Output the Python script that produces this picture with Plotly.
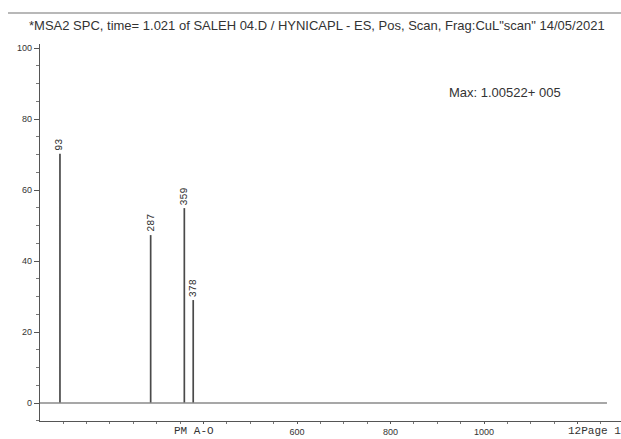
import plotly.graph_objects as go

# ---- data ----
peak_mz = [93, 287, 359, 378]
peak_abund = [70.2, 47.3, 54.9, 29.0]
peak_labels = ["93", "287", "359", "378"]
y_ticks = [0, 20, 40, 60, 80, 100]
x_ticks = [400, 600, 800, 1000, 1200]
x_ticktext = ["", "600", "800", "1000", ""]
title_text = '*MSA2 SPC, time= 1.021 of SALEH 04.D / HYNICAPL - ES, Pos, Scan, Frag:CuL"scan" 14/05/2021'
max_text = "Max: 1.00522+ 005"

W, H = 621, 439
L, R, T, B = 40, 0, 44, 18
x_range = [50.3, 1293.0]
y_range = [-5.07, 101.13]
baseline_end = 1263

xs, ys = [], []
for m, a in zip(peak_mz, peak_abund):
    xs += [m, m, None]
    ys += [0, a, None]

fig = go.Figure()
fig.add_trace(go.Scatter(x=xs, y=ys, mode="lines",
                         line=dict(color="#4a4a4a", width=1.7),
                         hoverinfo="skip", showlegend=False))

# baseline at zero abundance
fig.add_shape(type="line", xref="x", yref="y", x0=x_range[0], x1=baseline_end,
              y0=0, y1=0, line=dict(color="#8a8a8a", width=1.6))

# peak labels
for m, a, lab in zip(peak_mz, peak_abund, peak_labels):
    fig.add_annotation(x=m, y=a, text=lab, textangle=-90, showarrow=False,
                       xanchor="center", yanchor="bottom", yshift=1,
                       font=dict(family="Liberation Mono", size=10, color="#333"))

pw = W - L - R
ph = H - T - B
def px(xp):
    return (xp - L) / pw
def py(yp):
    return (H - B - yp) / ph

fig.add_annotation(xref="paper", yref="paper", x=px(27), y=py(25), text=title_text,
                   showarrow=False, xanchor="left", yanchor="middle",
                   font=dict(family="Liberation Sans", size=13, color="#333"))
fig.add_annotation(xref="paper", yref="paper", x=px(447), y=py(92), text=max_text,
                   showarrow=False, xanchor="left", yanchor="middle",
                   font=dict(family="Liberation Sans", size=13, color="#333"))
fig.add_annotation(xref="paper", yref="paper", x=px(172), y=py(431), text="PM A-O",
                   showarrow=False, xanchor="left", yanchor="middle",
                   font=dict(family="Liberation Mono", size=11, color="#333"))
fig.add_annotation(xref="paper", yref="paper", x=px(566), y=py(431), text="12Page 1",
                   showarrow=False, xanchor="left", yanchor="middle",
                   font=dict(family="Liberation Mono", size=11, color="#333"))

# top gray rule
fig.add_shape(type="line", xref="paper", yref="paper", x0=px(8), x1=1.0,
              y0=py(13), y1=py(13), line=dict(color="#a0a0a0", width=1.5))

fig.update_layout(
    width=W, height=H, template="none",
    paper_bgcolor="white", plot_bgcolor="white",
    margin=dict(l=L, r=R, t=T, b=B, autoexpand=False),
    showlegend=False,
    xaxis=dict(range=x_range, showgrid=False, zeroline=False, showline=True,
               linecolor="#555", linewidth=1.2, ticks="outside", ticklen=2,
               tickcolor="#555", tickvals=x_ticks, ticktext=x_ticktext,
               tickfont=dict(family="Liberation Sans", size=9, color="#333"),
               minor=dict(dtick=50, tick0=0, ticks="outside", ticklen=2, tickcolor="#777"),
               automargin=False),
    yaxis=dict(range=y_range, showgrid=False, zeroline=False, showline=True,
               linecolor="#555", linewidth=1.2, ticks="outside", ticklen=5,
               tickcolor="#555", tickvals=y_ticks,
               tickfont=dict(family="Liberation Sans", size=9, color="#333"),
               minor=dict(dtick=5, tick0=0, ticks="outside", ticklen=3, tickcolor="#777"),
               automargin=False),
)

fig.write_html("out.html", config={"displayModeBar": False},
               post_script="document.body.style.margin='0';document.body.style.overflow='hidden';")
